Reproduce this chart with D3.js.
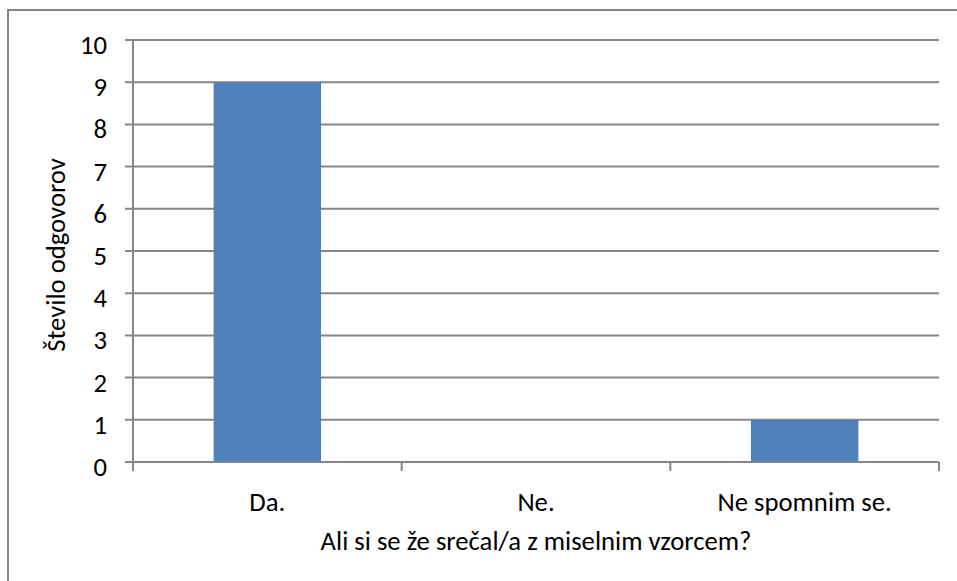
<!DOCTYPE html>
<html><head><meta charset="utf-8">
<script src="https://cdn.jsdelivr.net/npm/d3@7"></script>
<style>
html,body{margin:0;padding:0;background:#fff;}
svg{display:block;}
text{font-family:Carlito, Lato, "Open Sans", sans-serif;fill:#000;}
</style></head>
<body>
<svg id="chart" width="957" height="581"></svg>
<script>
const categories = ["Da.", "Ne.", "Ne spomnim se."];
const values = [9, 0, 1];
const yTicks = [0,1,2,3,4,5,6,7,8,9,10];
const yTitle = "Število odgovorov";
const xTitle = "Ali si se že srečal/a z miselnim vzorcem?";

(function(){
const svg = d3.select("#chart");
const grid = "#868686";

// derive font size so that the x title spans the same width as in the reference
const probe = svg.append("text").attr("font-size", 20).text(xTitle);
const w20 = probe.node().getComputedTextLength();
probe.remove();
const fs = Math.round(20 * 431 / w20 * 10) / 10;

// outer border
svg.append("rect").attr("x", 8).attr("y", 10).attr("width", 1000).attr("height", 700)
  .attr("fill", "none").attr("stroke", grid).attr("stroke-width", 2);

const pL = 133, pR = 939, pT = 40, pB = 462;
const x = d3.scaleBand().domain(categories).range([pL, pR]).paddingInner(0.6).paddingOuter(0.3);
const y = d3.scaleLinear().domain([0, 10]).range([pB, pT]);

// gridlines (with left tick marks)
svg.selectAll("line.grid").data(yTicks).join("line")
  .attr("x1", pL - 8).attr("x2", pR)
  .attr("y1", d => y(d)).attr("y2", d => y(d))
  .attr("stroke", grid).attr("stroke-width", 2);

// bars
svg.selectAll("rect.bar").data(values).join("rect")
  .attr("x", (d,i) => x(categories[i]))
  .attr("width", x.bandwidth())
  .attr("y", d => y(d))
  .attr("height", d => y(0) - y(d))
  .attr("fill", "#4F81BD");

// y axis line
svg.append("line").attr("x1", pL).attr("x2", pL).attr("y1", pT).attr("y2", pB + 9)
  .attr("stroke", grid).attr("stroke-width", 2);
// x axis line
svg.append("line").attr("x1", pL).attr("x2", pR).attr("y1", pB).attr("y2", pB)
  .attr("stroke", grid).attr("stroke-width", 2);
// x category boundary ticks
const bounds = d3.range(categories.length + 1).map(i => pL + i * (pR - pL) / categories.length);
svg.selectAll("line.xt").data(bounds).join("line")
  .attr("x1", d => d).attr("x2", d => d).attr("y1", pB).attr("y2", pB + 9)
  .attr("stroke", grid).attr("stroke-width", 2);

// y tick labels
svg.selectAll("text.yl").data(yTicks).join("text")
  .attr("x", 107).attr("y", d => y(d) + 14)
  .attr("text-anchor", "end").attr("font-size", fs)
  .text(d => d);

// x category labels
svg.selectAll("text.xl").data(categories).join("text")
  .attr("x", d => x(d) + x.bandwidth()/2).attr("y", 511)
  .attr("text-anchor", "middle").attr("font-size", fs)
  .text(d => d);

// titles
svg.append("text").attr("x", (pL + pR) / 2).attr("y", 550).attr("text-anchor", "middle")
  .attr("font-size", fs).text(xTitle);
svg.append("text").attr("transform", "translate(65," + ((pT+pB)/2 + 4) + ") rotate(-90)")
  .attr("text-anchor", "middle").attr("font-size", fs).text(yTitle);
})();
</script>
</body></html>
